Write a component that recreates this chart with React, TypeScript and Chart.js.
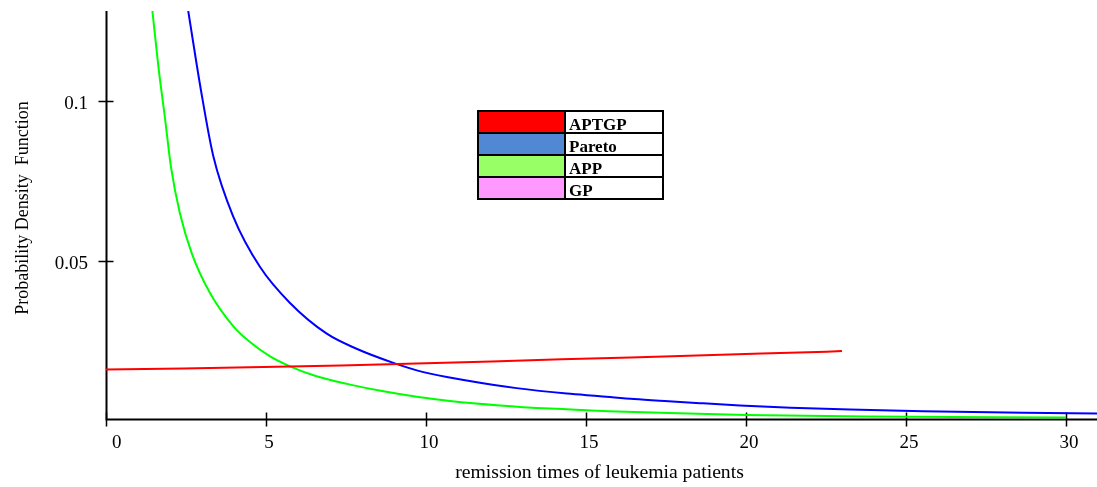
import React, { useEffect, useRef } from "react";
import { Chart, registerables } from "chart.js";

Chart.register(...registerables);

// ---- data ----
const aptgpX = [0, 2.42, 4.92, 7.34, 9.71, 12.05, 14.24, 16.4, 18.46, 20.49, 22.52, 23.0];
const aptgpY = [0.016, 0.0163, 0.0168, 0.0173, 0.0179, 0.0185, 0.0192, 0.0198, 0.0204, 0.021, 0.0216, 0.0218];

const paretoX = [2.57, 2.97, 3.35, 3.98, 4.81, 5.75, 6.9, 7.83, 8.98, 9.92, 11.27, 12.83, 14.4, 15.44, 16.5, 17.58, 18.56, 19.81, 21.4, 23.25, 25.54, 28.67, 30.97];
const paretoY = [0.128, 0.1031, 0.0828, 0.0637, 0.0481, 0.0368, 0.0272, 0.0225, 0.0181, 0.0152, 0.0126, 0.0102, 0.0085, 0.0077, 0.0068, 0.0061, 0.0055, 0.0048, 0.0041, 0.0035, 0.003, 0.0025, 0.0023];

const appX = [1.45, 1.64, 1.84, 2.03, 2.31, 2.68, 3.25, 3.98, 4.5, 5.13, 5.75, 6.58, 7.63, 8.67, 9.71, 10.75, 12.31, 13.88, 15.7, 17.6, 20.0, 23.77, 30.0];
const appY = [0.128, 0.1104, 0.0948, 0.0793, 0.0648, 0.0523, 0.0399, 0.0295, 0.0246, 0.0201, 0.017, 0.0139, 0.0113, 0.0092, 0.0075, 0.0062, 0.0048, 0.0038, 0.003, 0.0024, 0.0018, 0.0013, 0.001];

const legendNames = ["APTGP", "Pareto", "APP", "GP"];
const legendColors = ["#ff0000", "#5088d4", "#99ff66", "#ff99ff"];

const xTicks = [0, 5, 10, 15, 20, 25, 30];
const yTicks = [0.05, 0.1];
const yTickLabels = ["0.05", "0.1"];

const xTitle = "remission times of leukemia patients";
const yTitle = "Probability Density  Function";

const SERIF = '"Liberation Serif", "Times New Roman", serif';

function pts(xs: number[], ys: number[]) {
  return xs.map((x, i) => ({ x, y: ys[i] }));
}

const axesPlugin = {
  id: "mathcadAxes",
  beforeDatasetsDraw(chart: any) {
    const ctx = chart.ctx as CanvasRenderingContext2D;
    const xs = chart.scales.x;
    const ys = chart.scales.y;
    const area = chart.chartArea;
    const x0 = xs.getPixelForValue(0) + 0.5;
    const yb = area.bottom;
    ctx.save();
    ctx.strokeStyle = "#000";
    ctx.lineWidth = 2;
    ctx.beginPath();
    ctx.moveTo(x0, area.top);
    ctx.lineTo(x0, yb + 1);
    ctx.moveTo(area.left, yb);
    ctx.lineTo(area.right, yb);
    ctx.stroke();
    ctx.lineWidth = 1.5;
    ctx.beginPath();
    xTicks.forEach((t) => {
      const px = Math.round(xs.getPixelForValue(t)) + 0.5;
      ctx.moveTo(px, yb - 7);
      ctx.lineTo(px, yb + 7);
    });
    yTicks.forEach((t) => {
      const py = Math.round(ys.getPixelForValue(t)) + 0.5;
      ctx.moveTo(x0 - 8, py);
      ctx.lineTo(x0 + 7, py);
    });
    ctx.stroke();

    ctx.fillStyle = "#000";
    ctx.font = `19px ${SERIF}`;
    ctx.textBaseline = "alphabetic";
    xTicks.forEach((t, i) => {
      const px = xs.getPixelForValue(t);
      if (i === 0) {
        ctx.textAlign = "left";
        ctx.fillText(String(t), px + 6, 448);
      } else {
        ctx.textAlign = "center";
        ctx.fillText(String(t), px + 3, 448);
      }
    });
    ctx.textAlign = "right";
    ctx.textBaseline = "middle";
    yTicks.forEach((t, i) => {
      const py = ys.getPixelForValue(t);
      ctx.fillText(yTickLabels[i], 88, py + 3);
    });

    ctx.textAlign = "center";
    ctx.textBaseline = "alphabetic";
    ctx.font = `19.7px ${SERIF}`;
    ctx.fillText(xTitle, (area.left + area.right) / 2 - 2, 478);

    ctx.save();
    ctx.translate(28, 208);
    ctx.rotate(-Math.PI / 2);
    ctx.font = `18px ${SERIF}`;
    ctx.fillText(yTitle, 0, 0);
    ctx.restore();
    ctx.restore();
  },
  afterDraw(chart: any) {
    const ctx = chart.ctx as CanvasRenderingContext2D;
    const left = 478;
    const mid = 565;
    const right = 663;
    const top = 111;
    const rowH = 22;
    ctx.save();
    legendNames.forEach((name, i) => {
      const y = top + i * rowH;
      ctx.fillStyle = "#fff";
      ctx.fillRect(mid, y, right - mid, rowH);
      ctx.fillStyle = legendColors[i];
      ctx.fillRect(left, y, mid - left, rowH);
      ctx.fillStyle = "#000";
      ctx.font = `bold 17px ${SERIF}`;
      ctx.textAlign = "left";
      ctx.textBaseline = "alphabetic";
      ctx.fillText(name, mid + 4, y + rowH - 3);
    });
    ctx.strokeStyle = "#000";
    ctx.lineWidth = 2;
    ctx.beginPath();
    for (let i = 0; i <= legendNames.length; i++) {
      const y = top + i * rowH;
      ctx.moveTo(left - 1, y);
      ctx.lineTo(right + 1, y);
    }
    ctx.moveTo(left, top);
    ctx.lineTo(left, top + rowH * legendNames.length);
    ctx.moveTo(mid, top);
    ctx.lineTo(mid, top + rowH * legendNames.length);
    ctx.moveTo(right, top);
    ctx.lineTo(right, top + rowH * legendNames.length);
    ctx.stroke();
    ctx.restore();
  },
};

export default function App() {
  const ref = useRef<HTMLCanvasElement | null>(null);
  useEffect(() => {
    document.body.style.margin = "0";
    if (!ref.current) return;
    const chart = new Chart(ref.current, {
      type: "line",
      data: {
        datasets: [
          {
            label: "APTGP",
            data: pts(aptgpX, aptgpY),
            borderColor: "#ff0000",
            borderWidth: 2,
            pointRadius: 0,
            tension: 0,
          },
          {
            label: "Pareto",
            data: pts(paretoX, paretoY),
            borderColor: "#0000ff",
            borderWidth: 2,
            pointRadius: 0,
            cubicInterpolationMode: "monotone",
          },
          {
            label: "APP",
            data: pts(appX, appY),
            borderColor: "#00ff00",
            borderWidth: 2,
            pointRadius: 0,
            cubicInterpolationMode: "monotone",
          },
        ],
      },
      options: {
        responsive: false,
        animation: false,
        events: [],
        layout: { padding: { left: 106, top: 11, right: 0, bottom: 67.5 } },
        plugins: { legend: { display: false }, tooltip: { enabled: false } },
        scales: {
          x: { type: "linear", min: 0, max: 30.97, display: false },
          y: { type: "linear", min: 0.0004, max: 0.128, display: false },
        },
      },
      plugins: [axesPlugin],
    });
    return () => chart.destroy();
  }, []);
  return (
    <div style={{ position: "absolute", left: 0, top: 0, width: 1097, height: 487, background: "#fff" }}>
      <canvas ref={ref} width={1097} height={487} />
    </div>
  );
}
